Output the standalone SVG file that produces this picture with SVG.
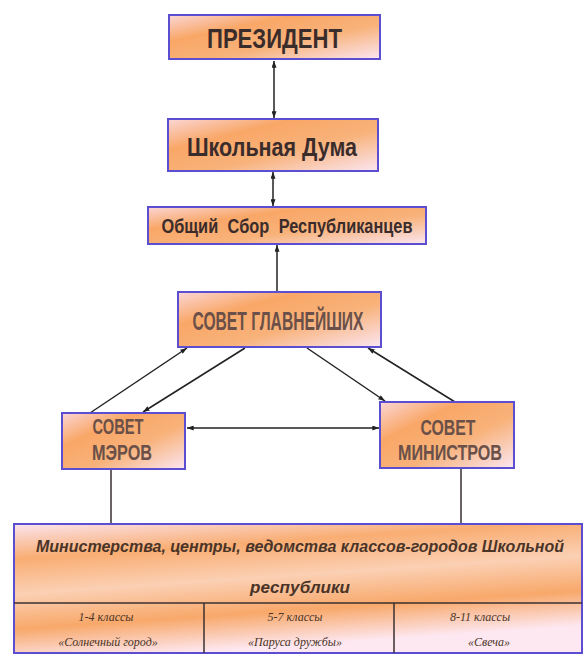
<svg xmlns="http://www.w3.org/2000/svg" width="583" height="654" viewBox="0 0 583 654">
<defs>
<linearGradient id="g" x1="0" y1="0" x2="1" y2="1">
<stop offset="0" stop-color="#fbd6d6"/>
<stop offset="0.3" stop-color="#f9a767"/>
<stop offset="0.6" stop-color="#f8b27a"/>
<stop offset="1" stop-color="#fbe6f2"/>
</linearGradient>
<linearGradient id="gb" x1="0" y1="0" x2="0.3" y2="1">
<stop offset="0" stop-color="#fbe4ee"/>
<stop offset="0.25" stop-color="#f9ad72"/>
<stop offset="0.5" stop-color="#fbd0b4"/>
<stop offset="0.75" stop-color="#f8a86a"/>
<stop offset="1" stop-color="#fde8f1"/>
</linearGradient>
<marker id="ah" viewBox="0 0 8 6" refX="8" refY="3" markerWidth="7" markerHeight="5" markerUnits="userSpaceOnUse" orient="auto-start-reverse">
<path d="M0,0 L8,3 L0,6 z" fill="#222"/>
</marker>
<style>
.box{fill:url(#g);stroke:#5b4ed0;stroke-width:2}
.bbox{fill:url(#gb);stroke:#5b4ed0;stroke-width:2}
.t{font-family:"Liberation Sans",Arial,sans-serif;font-weight:bold;fill:#3b2c2c;text-anchor:middle}
.s{font-family:"Liberation Sans",Arial,sans-serif;font-weight:bold;fill:#6a5048;text-anchor:middle}
.it{font-family:"Liberation Sans",Arial,sans-serif;font-weight:bold;font-style:italic;fill:#4a3428;text-anchor:middle}
.c{font-family:"Liberation Serif","Times New Roman",serif;font-style:italic;fill:#4a3428;text-anchor:middle;font-size:12px}
.ln{stroke:#222;stroke-width:1.5;fill:none}
.dv{stroke:#3a3030;stroke-width:1.5;fill:none}
</style>
</defs>
<rect width="583" height="654" fill="#fff"/>
<g id="connectors">
<line class="ln" x1="274" y1="61" x2="274" y2="118" marker-start="url(#ah)" marker-end="url(#ah)"/>
<line class="ln" x1="273" y1="172" x2="273" y2="206" marker-start="url(#ah)" marker-end="url(#ah)"/>
<line class="ln" x1="277" y1="292" x2="277" y2="245" marker-end="url(#ah)"/>
<line class="ln" x1="90" y1="413" x2="187" y2="348" marker-end="url(#ah)"/>
<line class="ln" x1="245" y1="348" x2="143" y2="412" marker-end="url(#ah)"/>
<line class="ln" x1="307" y1="348" x2="385" y2="401" marker-end="url(#ah)"/>
<line class="ln" x1="455" y1="402" x2="368" y2="348" marker-end="url(#ah)"/>
<line class="ln" x1="187" y1="428" x2="379" y2="428" marker-start="url(#ah)" marker-end="url(#ah)"/>
<line class="dv" x1="111" y1="470" x2="111" y2="524"/>
<line class="dv" x1="461" y1="469" x2="461" y2="524"/>
</g>
<g id="president">
<rect class="box" x="169" y="15" width="211" height="44"/>
<text class="t" x="274.5" y="48" font-size="28" textLength="135" lengthAdjust="spacingAndGlyphs">ПРЕЗИДЕНТ</text>
</g>
<g id="duma">
<rect class="box" x="168" y="119" width="210" height="52"/>
<text class="t" x="272" y="156" font-size="26" textLength="170" lengthAdjust="spacingAndGlyphs">Школьная Дума</text>
</g>
<g id="sbor">
<rect class="box" x="148" y="207" width="278" height="37"/>
<text class="t" x="287" y="233" font-size="20" textLength="251" lengthAdjust="spacingAndGlyphs" word-spacing="6">Общий  Сбор  Республиканцев</text>
</g>
<g id="glavn">
<rect class="box" x="178" y="292" width="203" height="55"/>
<text class="s" x="278" y="330" font-size="26" textLength="171" lengthAdjust="spacingAndGlyphs">СОВЕТ  ГЛАВНЕЙШИХ</text>
</g>
<g id="merov">
<rect class="box" x="62" y="413" width="123" height="56"/>
<text class="s" x="118" y="434" font-size="22" textLength="51" lengthAdjust="spacingAndGlyphs">СОВЕТ</text>
<text class="s" x="122" y="460" font-size="22" textLength="60" lengthAdjust="spacingAndGlyphs">МЭРОВ</text>
</g>
<g id="ministrov">
<rect class="box" x="380" y="402" width="134" height="66"/>
<text class="s" x="448" y="435" font-size="22" textLength="55" lengthAdjust="spacingAndGlyphs">СОВЕТ</text>
<text class="s" x="450" y="460" font-size="22" textLength="104" lengthAdjust="spacingAndGlyphs">МИНИСТРОВ</text>
</g>
<g id="ministerstva">
<rect class="bbox" x="14" y="524" width="568" height="129"/>
<text class="it" x="300" y="552" font-size="16" textLength="528" lengthAdjust="spacingAndGlyphs">Министерства, центры, ведомства классов-городов Школьной</text>
<text class="it" x="300" y="593" font-size="17" textLength="100" lengthAdjust="spacingAndGlyphs">республики</text>
<line class="dv" x1="14" y1="603" x2="582" y2="603" stroke="#5b4ed0"/>
<line class="dv" x1="204" y1="603" x2="204" y2="653"/>
<line class="dv" x1="394" y1="603" x2="394" y2="653"/>
</g>
<g id="cell1">
<text class="c" x="106" y="621">1-4 классы</text>
<text class="c" x="108" y="646">«Солнечный город»</text>
</g>
<g id="cell2">
<text class="c" x="295" y="621">5-7 классы</text>
<text class="c" x="295" y="646">«Паруса дружбы»</text>
</g>
<g id="cell3">
<text class="c" x="480" y="621">8-11 классы</text>
<text class="c" x="489" y="646">«Свеча»</text>
</g>
</svg>
